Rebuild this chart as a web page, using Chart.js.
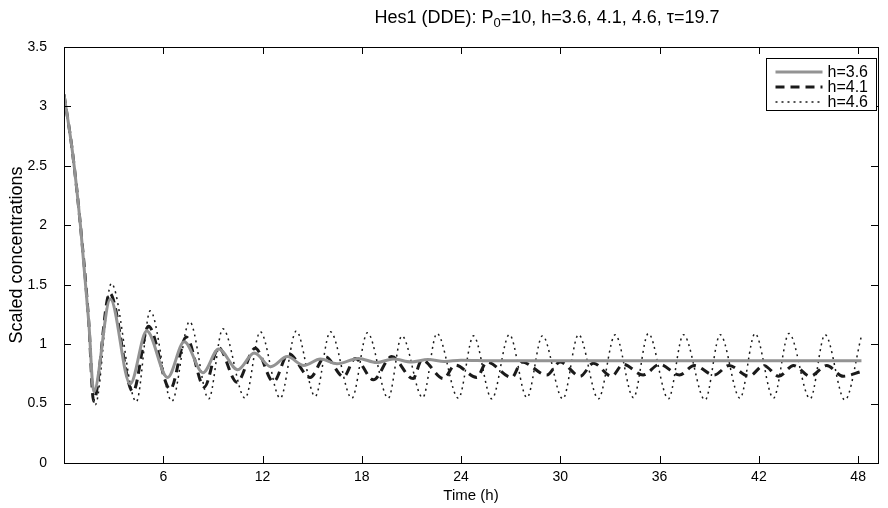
<!DOCTYPE html>
<html><head><meta charset="utf-8">
<script src="https://cdn.jsdelivr.net/npm/chart.js@4/dist/chart.umd.min.js"></script>
<style>html,body{margin:0;padding:0;background:#fff}canvas{display:block}</style>
</head><body>
<canvas id="c" width="888" height="508"></canvas>
<script>
// ---- data ----
const seriesLabels = ['h=3.6', 'h=4.1', 'h=4.6'];
const xTickValues = [6, 12, 18, 24, 30, 36, 42, 48];
const yTickValues = [0, 0.5, 1, 1.5, 2, 2.5, 3, 3.5];

const timeH36 = [0, 0.5, 1, 1.5, 1.8, 2.8, 4.0, 5.0, 6.26, 7.27, 8.4, 9.35, 10.5, 11.5, 12.5, 13.5, 14.5, 15.5, 16.5, 17.8, 18.9, 19.9, 21, 22, 23, 24, 26, 48.2];
const valsH36 = [3.1, 2.63, 1.99, 1.18, 0.60, 1.38, 0.665, 1.11, 0.72, 1.02, 0.76, 0.96, 0.785, 0.925, 0.81, 0.895, 0.82, 0.875, 0.835, 0.88, 0.845, 0.875, 0.85, 0.87, 0.855, 0.865, 0.86, 0.86];

const timeH41 = [0, 0.5, 1, 1.5, 1.79, 2.76, 4.17, 5.11, 6.42, 7.39, 8.48, 9.34, 10.45, 11.56, 12.66, 13.57, 14.88, 15.79, 16.9, 17.6, 18.7, 19.8, 21.1, 21.63, 22.94, 23.64, 24.95, 25.56, 27.07, 27.67, 29.18, 29.98, 31.2, 32.0, 33.1, 33.8, 35.0, 36.0, 37.2, 38.1, 39.3, 40.2, 41.4, 42.3, 43.2, 44.1, 45.1, 46.1, 47.1, 48.2];
const valsH41 = [3.1, 2.63, 1.99, 1.18, 0.52, 1.43, 0.60, 1.15, 0.62, 1.06, 0.64, 0.97, 0.68, 0.965, 0.684, 0.92, 0.72, 0.895, 0.726, 0.88, 0.70, 0.895, 0.71, 0.867, 0.71, 0.824, 0.72, 0.85, 0.72, 0.85, 0.74, 0.85, 0.73, 0.84, 0.73, 0.83, 0.74, 0.83, 0.74, 0.82, 0.74, 0.82, 0.73, 0.82, 0.73, 0.82, 0.73, 0.82, 0.73, 0.77];

const timeH46 = [0, 0.5, 1, 1.5, 1.89, 2.86, 4.37, 5.21, 6.52, 7.59, 8.75, 9.6, 10.95, 11.86, 13.07, 14.04, 15.18, 16.1, 17.4, 18.34, 19.6, 20.42, 21.68, 22.54, 23.84, 24.75, 25.86, 26.92, 27.98, 28.92, 30.15, 31.1, 32.3, 33.32, 34.42, 35.32, 36.53, 37.44, 38.75, 39.66, 40.86, 41.77, 42.88, 43.82, 45.1, 46.0, 47.2, 48.2];
const valsH46 = [3.1, 2.63, 1.99, 1.18, 0.49, 1.51, 0.515, 1.28, 0.52, 1.19, 0.54, 1.13, 0.545, 1.105, 0.545, 1.11, 0.56, 1.105, 0.545, 1.096, 0.545, 1.07, 0.55, 1.09, 0.545, 1.07, 0.54, 1.08, 0.55, 1.07, 0.54, 1.08, 0.54, 1.08, 0.55, 1.09, 0.54, 1.08, 0.53, 1.08, 0.545, 1.09, 0.545, 1.09, 0.54, 1.08, 0.53, 1.07];

const toXY = (ts, vs) => ts.map((t, i) => ({x: t, y: vs[i]}));

const FONT = "'Liberation Sans', Arial, Helvetica, sans-serif";

// ---- plugins ----
const framePlugin = {
  id: 'frame',
  afterDraw(chart) {
    const {ctx, chartArea: a, scales: {x, y}} = chart;
    ctx.save();
    ctx.strokeStyle = '#000';
    ctx.lineWidth = 1;
    ctx.strokeRect(Math.round(a.left) + 0.5, Math.round(a.top) + 0.5, Math.round(a.right - a.left), Math.round(a.bottom - a.top));
    const L = 7;
    ctx.beginPath();
    x.ticks.forEach(t => {
      const px = Math.round(x.getPixelForValue(t.value)) + 0.5;
      ctx.moveTo(px, a.bottom); ctx.lineTo(px, a.bottom - L);
      ctx.moveTo(px, a.top); ctx.lineTo(px, a.top + L);
    });
    y.ticks.forEach(t => {
      const py = Math.round(y.getPixelForValue(t.value)) + 0.5;
      ctx.moveTo(a.left, py); ctx.lineTo(a.left + L, py);
      ctx.moveTo(a.right, py); ctx.lineTo(a.right - L, py);
    });
    ctx.stroke();

    // legend (inside, top-right)
    const bx = 766.5, by = 58.5, bw = 110, bh = 52;
    ctx.fillStyle = '#fff';
    ctx.fillRect(bx, by, bw, bh);
    ctx.strokeRect(bx, by, bw, bh);
    ctx.font = '16px ' + FONT;
    ctx.textBaseline = 'middle';
    ctx.textAlign = 'left';
    chart.data.datasets.forEach((ds, i) => {
      const ry = by + 13.5 + i * 15;
      ctx.save();
      ctx.strokeStyle = ds.borderColor;
      ctx.lineWidth = ds.borderWidth;
      ctx.setLineDash(ds.borderDash || []);
      ctx.beginPath();
      ctx.moveTo(bx + 9, ry); ctx.lineTo(bx + 56, ry);
      ctx.stroke();
      ctx.restore();
      ctx.fillStyle = '#000';
      ctx.fillText(ds.label, bx + 61, ry + 1);
    });

    // title with subscript
    const cx = 547, ty = 18;
    const parts = [['Hes1 (DDE): P', 18, 0], ['0', 13, 5], ['=10, h=3.6, 4.1, 4.6, \u03C4=19.7', 18, 0]];
    let total = 0;
    parts.forEach(p => { ctx.font = p[1] + 'px ' + FONT; total += ctx.measureText(p[0]).width; });
    let cur = cx - total / 2;
    ctx.fillStyle = '#000';
    parts.forEach(p => {
      ctx.font = p[1] + 'px ' + FONT;
      ctx.fillText(p[0], cur, ty + p[2]);
      cur += ctx.measureText(p[0]).width;
    });
    ctx.restore();
  }
};

new Chart(document.getElementById('c'), {
  type: 'line',
  data: {
    datasets: [
      {label: seriesLabels[0], data: toXY(timeH36, valsH36), borderColor: '#939393', borderWidth: 3, borderDash: [], pointRadius: 0, fill: false, cubicInterpolationMode: 'monotone'},
      {label: seriesLabels[1], data: toXY(timeH41, valsH41), borderColor: '#1a1a1a', borderWidth: 3, borderDash: [9, 6], pointRadius: 0, fill: false, cubicInterpolationMode: 'monotone'},
      {label: seriesLabels[2], data: toXY(timeH46, valsH46), borderColor: '#1a1a1a', borderWidth: 1.5, borderDash: [2, 4], pointRadius: 0, fill: false, cubicInterpolationMode: 'monotone'}
    ]
  },
  options: {
    responsive: false,
    animation: false,
    devicePixelRatio: 1,
    layout: {padding: {top: 47, right: 10, left: 0, bottom: 0}},
    plugins: {legend: {display: false}, title: {display: false}, tooltip: {enabled: false}},
    scales: {
      x: {
        type: 'linear', min: 0, max: 49.2,
        afterBuildTicks: s => { s.ticks = xTickValues.map(v => ({value: v})); },
        afterFit: s => { s.height = 45; },
        grid: {display: false, drawTicks: false},
        border: {display: false},
        ticks: {font: {family: FONT, size: 14}, color: '#000', padding: 6, maxRotation: 0, autoSkip: false, callback: v => String(v)},
        title: {display: true, text: 'Time (h)', font: {family: FONT, size: 15}, color: '#000', padding: {bottom: 3}}
      },
      y: {
        type: 'linear', min: 0, max: 3.5,
        afterBuildTicks: s => { s.ticks = yTickValues.map(v => ({value: v})); },
        afterFit: s => { s.width = 64; },
        grid: {display: false, drawTicks: false},
        border: {display: false},
        ticks: {font: {family: FONT, size: 14}, color: '#000', padding: 17, autoSkip: false, callback: v => String(v)},
        title: {display: true, text: 'Scaled concentrations', font: {family: FONT, size: 18}, color: '#000', padding: {top: 6}}
      }
    }
  },
  plugins: [framePlugin]
});
</script>
</body></html>
